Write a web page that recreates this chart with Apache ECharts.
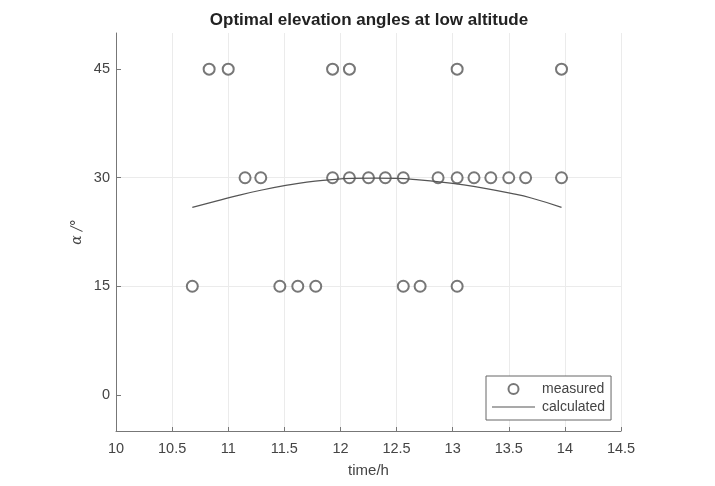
<!DOCTYPE html>
<html>
<head>
<meta charset="utf-8">
<script src="https://cdn.jsdelivr.net/npm/echarts@6/dist/echarts.min.js"></script>
<style>
  html, body { margin: 0; padding: 0; background: #fff; }
  #chart { width: 715px; height: 486px; }
</style>
</head>
<body>
<div id="chart"></div>
<script>
// measured points, grouped by angle row
const time45 = [10.83, 11.0, 11.93, 12.08, 13.04, 13.97]
const time30 = [11.15, 11.29, 11.93, 12.08, 12.25, 12.4, 12.56, 12.87, 13.04, 13.19, 13.34, 13.5, 13.65, 13.97]
const time15 = [10.68, 11.46, 11.62, 11.78, 12.56, 12.71, 13.04]

// calculated curve
const calcTime = [10.68, 10.9, 11.1, 11.3, 11.5, 11.7, 11.9, 12.1, 12.3, 12.5, 12.7, 12.9, 13.1, 13.3, 13.5, 13.7, 13.97]
const calcAngle = [25.9, 26.8, 27.6, 28.3, 28.9, 29.4, 29.7, 29.9, 29.95, 29.9, 29.7, 29.4, 29.0, 28.5, 27.9, 27.2, 25.9]

const xTicks = [10, 10.5, 11, 11.5, 12, 12.5, 13, 13.5, 14, 14.5]
const yTicks = [0, 15, 30, 45]

const measured = []
time45.forEach(t => measured.push([t, 45]))
time30.forEach(t => measured.push([t, 30]))
time15.forEach(t => measured.push([t, 15]))
const calculated = calcTime.map((t, i) => [t, calcAngle[i]])

const chart = echarts.init(document.getElementById('chart'))
chart.setOption({
  animation: false,
  title: {
    text: 'Optimal elevation angles at low altitude',
    left: 364,
    textAlign: 'center',
    top: 7,
    textStyle: { fontFamily: 'Liberation Sans', fontSize: 17, fontWeight: 'bold', color: '#222' }
  },
  grid: { left: 116, right: 94, top: 33, bottom: 55 },
  legend: {
    left: 486,
    top: 376,
    orient: 'vertical',
    align: 'left',
    borderColor: '#666',
    borderWidth: 1,
    borderRadius: 0,
    padding: [6, 6, 6, 6],
    itemGap: 4,
    itemWidth: 43,
    itemHeight: 10,
    backgroundColor: '#fff',
    textStyle: { fontFamily: 'Liberation Sans', fontSize: 14, color: '#444', padding: [0, 0, 0, 2] },
    data: [
      { name: 'measured', icon: 'emptyCircle' },
      { name: 'calculated', icon: 'path://M0,0H43V1H0Z' }
    ]
  },
  xAxis: {
    type: 'value',
    min: 10,
    max: 14.5,
    interval: 0.5,
    name: 'time/h',
    nameLocation: 'middle',
    nameGap: 32,
    nameTextStyle: { fontFamily: 'Liberation Sans', fontSize: 15, color: '#444' },
    axisLine: { onZero: false, lineStyle: { color: '#777' } },
    axisTick: { inside: true, length: 4, lineStyle: { color: '#777' } },
    axisLabel: {
      fontFamily: 'Liberation Sans', fontSize: 14.5, color: '#444', margin: 10,
      formatter: v => xTicks.includes(v) ? String(v) : ''
    },
    splitLine: { show: true, lineStyle: { color: '#ebebeb' } }
  },
  yAxis: {
    type: 'value',
    min: -5,
    max: 50,
    interval: 5,
    name: 'α /°',
    nameLocation: 'middle',
    nameGap: 32,
    nameRotate: 90,
    nameMoveOverlap: false,
    nameTextStyle: { fontFamily: 'DejaVu Serif', fontStyle: 'italic', fontSize: 14, color: '#444' },
    axisLine: { show: true, onZero: false, lineStyle: { color: '#777' } },
    axisTick: {
      show: true, inside: true, length: 5, lineStyle: { color: '#777' },
      customValues: yTicks
    },
    axisLabel: {
      fontFamily: 'Liberation Sans', fontSize: 14.5, color: '#444', margin: 6,
      customValues: yTicks
    },
    splitLine: {
      show: true, lineStyle: { color: '#ebebeb' },
      showMinLine: false, showMaxLine: false
    }
  },
  series: [
    {
      name: 'measured',
      type: 'scatter',
      data: measured,
      symbol: 'emptyCircle',
      symbolSize: 11,
      itemStyle: { color: '#555', borderColor: '#555', borderWidth: 1.2 }
    },
    {
      name: 'calculated',
      type: 'line',
      data: calculated,
      smooth: true,
      showSymbol: false,
      symbol: 'none',
      lineStyle: { color: '#555', width: 1.2 },
      itemStyle: { color: '#555' }
    }
  ]
})
</script>
</body>
</html>
